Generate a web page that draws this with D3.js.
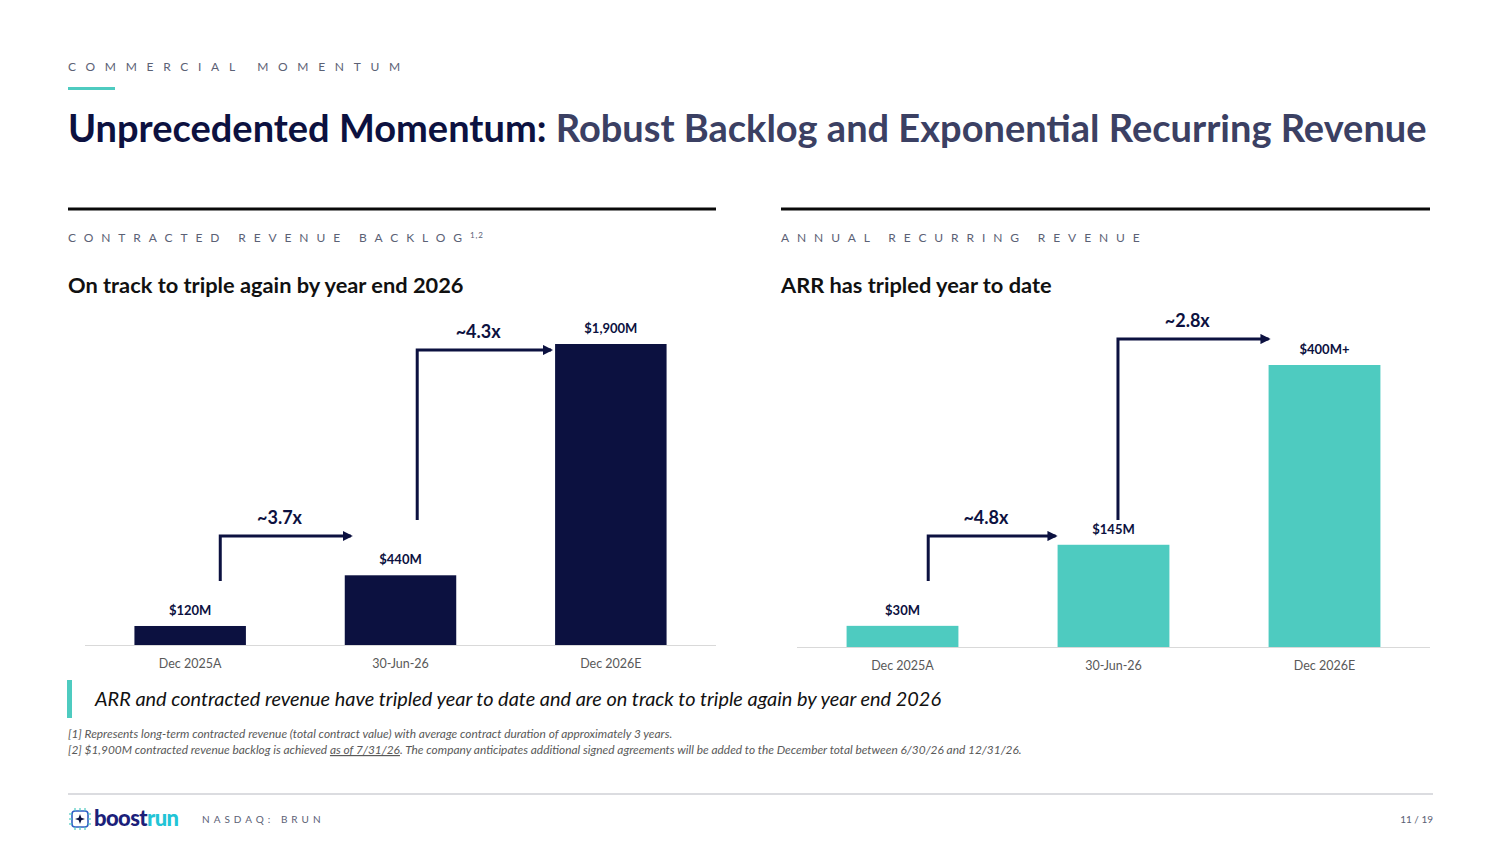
<!DOCTYPE html>
<html>
<head>
<meta charset="utf-8">
<script src="https://cdn.jsdelivr.net/npm/d3@7"></script>
<style>
  body { margin: 0; background: #fff; }
  svg { display: block; font-family: Lato, "Open Sans", sans-serif; }
  .spaced { fill: #5b6175; font-size: 12px; letter-spacing: 7.9px; }
  .cat { fill: #595959; font-size: 12.5px; }
  .val { fill: #0c1140; font-size: 13px; font-weight: 700; }
  .mult { fill: #0c1140; font-size: 18px; font-weight: 700; }
  .foot { fill: #595959; font-size: 11.9px; font-style: italic; }
</style>
</head>
<body>
<svg id="slide" width="1500" height="843" viewBox="0 0 1500 843"></svg>
<script>
// ---- data ----
const categories = ["Dec 2025A", "30-Jun-26", "Dec 2026E"];
const backlogValues = [120, 440, 1900];
const backlogLabels = ["$120M", "$440M", "$1,900M"];
const backlogMultiples = ["~3.7x", "~4.3x"];
const arrValues = [30, 145, 400];
const arrLabels = ["$30M", "$145M", "$400M+"];
const arrMultiples = ["~4.8x", "~2.8x"];

const NAVY = "#0c1140";
const TEAL = "#4ecbc0";

const svg = d3.select("#slide");

// defs: arrowhead
svg.append("defs").append("marker")
  .attr("id", "head")
  .attr("viewBox", "0 0 10 10")
  .attr("refX", 8).attr("refY", 5)
  .attr("markerWidth", 3.4).attr("markerHeight", 3.4)
  .attr("orient", "auto")
  .append("path")
    .attr("d", "M0,0 L10,5 L0,10 z")
    .attr("fill", NAVY);

// ---- header ----
svg.append("text").attr("class", "spaced")
  .attr("x", 68).attr("y", 71)
  .style("letter-spacing", "9.7px")
  .text("COMMERCIAL MOMENTUM");
svg.append("rect").attr("x", 68).attr("y", 87).attr("width", 47).attr("height", 3).attr("fill", TEAL);

const title = svg.append("text")
  .attr("x", 68).attr("y", 142)
  .style("font-size", "38px").style("font-weight", 700);
title.append("tspan").attr("fill", "#0c1140").text("Unprecedented Momentum: ");
title.append("tspan").attr("fill", "#3b4063").text("Robust Backlog and Exponential Recurring Revenue");

// ---- one chart panel ----
function drawPanel(opts) {
  const g = svg.append("g");

  g.append("rect")
    .attr("x", opts.left).attr("y", 207.5)
    .attr("width", opts.right - opts.left).attr("height", 3)
    .attr("fill", "#0a0a0a");

  const lab = g.append("text").attr("class", "spaced")
    .attr("x", opts.left).attr("y", 242)
    .text(opts.label);
  if (opts.sup) {
    lab.append("tspan").attr("font-size", "8px").attr("dy", -4).style("letter-spacing", "1px").text(opts.sup);
  }

  g.append("text")
    .attr("x", opts.left).attr("y", 293)
    .attr("fill", "#111")
    .style("font-size", "21.8px").style("font-weight", 700)
    .text(opts.subtitle);

  const x = d3.scaleBand()
    .domain(categories)
    .range([opts.axisLeft, opts.axisRight])
    .paddingInner(0.47)
    .paddingOuter(0.235);

  const y = d3.scaleLinear()
    .domain([0, d3.max(opts.values)])
    .range([opts.baseline, opts.top]);

  const rows = categories.map((c, i) => ({ cat: c, v: opts.values[i], label: opts.labels[i] }));

  g.selectAll(".bar")
    .data(rows)
    .enter().append("rect")
      .attr("class", "bar")
      .attr("x", d => x(d.cat))
      .attr("y", d => y(d.v))
      .attr("width", x.bandwidth())
      .attr("height", d => y(0) - y(d.v))
      .attr("fill", opts.color);

  g.selectAll(".val")
    .data(rows)
    .enter().append("text")
      .attr("class", "val")
      .attr("text-anchor", "middle")
      .attr("x", d => x(d.cat) + x.bandwidth() / 2)
      .attr("y", d => y(d.v) - 11)
      .text(d => d.label);

  // category axis
  const axis = g.append("g")
    .attr("transform", "translate(0," + opts.baseline + ")")
    .call(d3.axisBottom(x).tickSize(0).tickPadding(14).tickSizeOuter(0));
  axis.select(".domain")
    .attr("stroke", "#d9d9d9")
    .attr("d", "M" + opts.axisLeft + ",0.5H" + opts.axisRight);
  axis.selectAll("text").attr("class", "cat").style("font-family", null).style("font-size", null);
  axis.attr("font-family", null).attr("font-size", null);

  // growth arrows
  opts.arrows.forEach((a, i) => {
    const vx = x(categories[i]) + x.bandwidth() * a.xFrac;
    const ex = x(categories[i + 1]) + a.endDx;
    g.append("path")
      .attr("d", "M" + vx + "," + a.y0 + "V" + a.y1 + "H" + ex)
      .attr("fill", "none")
      .attr("stroke", NAVY)
      .attr("stroke-width", 3)
      .attr("marker-end", "url(#head)");
    g.append("text")
      .attr("class", "mult")
      .attr("text-anchor", "middle")
      .attr("x", (vx + ex) / 2 - 6)
      .attr("y", a.y1 - 12)
      .text(opts.multiples[i]);
  });
}

drawPanel({
  left: 68, right: 716,
  axisLeft: 85, axisRight: 716,
  baseline: 645, top: 344,
  label: "CONTRACTED REVENUE BACKLOG",
  sup: "1,2",
  subtitle: "On track to triple again by year end 2026",
  values: backlogValues, labels: backlogLabels, multiples: backlogMultiples,
  color: NAVY,
  arrows: [
    { xFrac: 0.77, y0: 581, y1: 536, endDx: 6 },
    { xFrac: 0.65, y0: 520, y1: 350, endDx: -4 }
  ]
});

drawPanel({
  left: 781, right: 1430,
  axisLeft: 797, axisRight: 1430,
  baseline: 647, top: 365,
  label: "ANNUAL RECURRING REVENUE",
  subtitle: "ARR has tripled year to date",
  values: arrValues, labels: arrLabels, multiples: arrMultiples,
  color: TEAL,
  arrows: [
    { xFrac: 0.73, y0: 581, y1: 536, endDx: -2 },
    { xFrac: 0.54, y0: 520, y1: 339, endDx: 0 }
  ]
});

// ---- callout ----
svg.append("rect").attr("x", 67).attr("y", 680).attr("width", 5).attr("height", 38).attr("fill", TEAL);
svg.append("text")
  .attr("x", 95).attr("y", 706)
  .attr("fill", "#111")
  .style("font-size", "19.9px").style("font-style", "italic")
  .text("ARR and contracted revenue have tripled year to date and are on track to triple again by year end 2026");

// ---- footnotes ----
svg.append("text").attr("class", "foot").attr("x", 68).attr("y", 738)
  .text("[1] Represents long-term contracted revenue (total contract value) with average contract duration of approximately 3 years.");
const fn2 = svg.append("text").attr("class", "foot").attr("x", 68).attr("y", 754);
fn2.append("tspan").text("[2] $1,900M contracted revenue backlog is achieved ");
fn2.append("tspan").attr("text-decoration", "underline").text("as of 7/31/26");
fn2.append("tspan").text(". The company anticipates additional signed agreements will be added to the December total between 6/30/26 and 12/31/26.");

// ---- footer ----
svg.append("line").attr("x1", 68).attr("x2", 1433).attr("y1", 794).attr("y2", 794)
  .attr("stroke", "#cfd0d6").attr("stroke-width", 1.5);

const logo = svg.append("g").attr("transform", "translate(70,809)");
logo.append("rect").attr("x", 2).attr("y", 2).attr("width", 16).attr("height", 16).attr("rx", 3)
  .attr("fill", "#fff").attr("stroke", "#2f5fc4").attr("stroke-width", 1.6);
[5, 10, 15].forEach(p => {
  logo.append("line").attr("x1", p).attr("x2", p).attr("y1", -1).attr("y2", 2).attr("stroke", TEAL).attr("stroke-width", 1.2);
  logo.append("line").attr("x1", p).attr("x2", p).attr("y1", 18).attr("y2", 21).attr("stroke", TEAL).attr("stroke-width", 1.2);
  logo.append("line").attr("y1", p).attr("y2", p).attr("x1", -1).attr("x2", 2).attr("stroke", TEAL).attr("stroke-width", 1.2);
  logo.append("line").attr("y1", p).attr("y2", p).attr("x1", 18).attr("x2", 21).attr("stroke", TEAL).attr("stroke-width", 1.2);
});
logo.append("path").attr("d", "M10,5 L11.3,8.7 L15,10 L11.3,11.3 L10,15 L8.7,11.3 L5,10 L8.7,8.7 Z").attr("fill", NAVY);
const brand = logo.append("text").attr("x", 24).attr("y", 17)
  .style("font-size", "22px").style("font-weight", 900).style("letter-spacing", "-0.6px");
brand.append("tspan").attr("fill", "#1c1f7a").text("boost");
brand.append("tspan").attr("fill", "#22c4d6").text("run");

svg.append("text").attr("x", 202).attr("y", 823)
  .attr("fill", "#5b6175").style("font-size", "10px").style("letter-spacing", "4.0px")
  .text("NASDAQ: BRUN");
svg.append("text").attr("x", 1433).attr("y", 823).attr("text-anchor", "end")
  .attr("fill", "#5b6175").style("font-size", "10px")
  .text("11 / 19");
</script>
</body>
</html>
